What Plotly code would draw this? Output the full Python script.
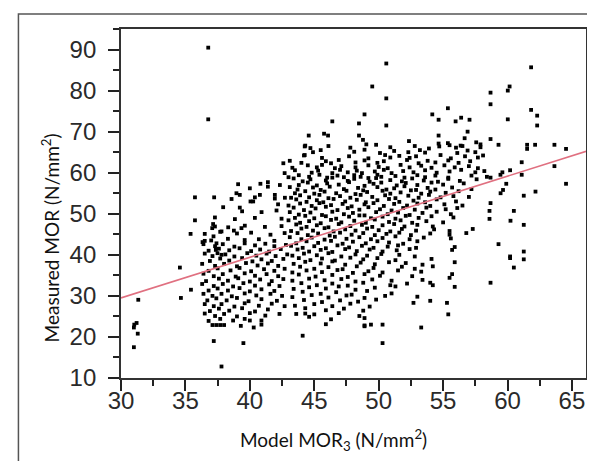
import plotly.graph_objects as go

# ---- Data: (Model MOR3, Measured MOR) in N/mm2 ----
right_pts = [(61.83, 85.67), (58.68, 79.5), (60.16, 81.0), (60.02, 80.0), (58.68, 76.67), (61.83, 75.3),
             (62.3, 73.9), (60.02, 73.0), (62.3, 71.5), (58.68, 68.2), (59.3, 66.8), (61.52, 66.8),
             (61.52, 65.8), (62.14, 66.8), (63.64, 66.8), (64.54, 65.8), (61.1, 62.55), (63.64, 61.6),
             (60.2, 60.6), (59.6, 60.1), (59.45, 59.5), (61.1, 59.5), (58.68, 58.8), (59.9, 57.3),
             (64.54, 57.3), (59.65, 55.8), (59.46, 55.0), (61.26, 54.4), (62.17, 55.4), (58.68, 52.6),
             (58.6, 50.7), (60.49, 50.7), (58.6, 48.76), (60.23, 48.3), (61.26, 47.3), (59.3, 42.6),
             (61.26, 40.8), (60.2, 39.6), (60.2, 39.2), (61.26, 38.9), (60.49, 36.9), (58.68, 33.2)]

upper_pts = [(36.77, 90.46), (36.77, 73.0), (50.59, 86.6), (49.5, 81.0), (50.59, 78.1), (48.9, 74.2),
             (46.4, 72.5), (48.47, 72.0), (50.59, 71.5), (55.37, 75.7), (54.16, 74.2), (54.65, 72.9),
             (55.97, 72.5), (56.4, 73.4), (57.05, 72.9), (56.9, 70.0), (44.57, 69.05), (45.76, 69.5),
             (46.07, 69.05), (48.47, 69.05), (48.78, 68.0), (49.04, 66.9), (52.35, 67.7), (54.65, 69.05),
             (54.65, 67.1), (55.37, 67.2), (56.67, 68.4), (56.36, 66.6), (57.57, 67.4), (57.9, 66.9),
             (44.26, 66.4), (44.26, 64.3)]

band_pts = [(44.3, 66.6), (44.7, 66.0), (46.1, 66.5), (47.8, 66.1), (49.8, 66.8), (50.9, 66.2), (52.8, 66.5),
            (53.9, 65.9), (54.7, 66.4), (55.5, 66.7), (56.0, 66.1), (56.5, 66.5), (57.9, 66.2),
            (44.9, 65.0), (45.5, 65.5), (48.1, 65.1), (48.9, 65.6), (50.1, 64.8), (51.2, 65.3), (52.3, 65.0),
            (53.2, 65.5), (53.6, 64.9), (56.1, 64.8), (56.9, 65.4), (57.5, 65.0),
            (44.2, 64.2), (45.6, 63.6), (47.7, 64.0), (49.2, 63.5), (50.5, 64.3), (50.9, 63.7), (51.6, 64.1),
            (52.4, 63.6), (52.9, 64.0), (54.8, 64.3), (55.6, 63.5), (56.7, 64.0), (57.7, 63.7), (58.1, 64.2),
            (43.1, 62.9), (44.0, 62.4), (45.9, 62.8), (46.3, 62.3), (46.9, 63.1), (48.2, 62.5), (48.9, 63.0),
            (49.9, 62.4), (50.4, 62.8), (52.2, 63.1), (53.1, 62.3), (53.8, 62.9), (54.4, 62.5), (55.4, 63.0),
            (56.2, 62.4), (57.1, 62.8),
            (43.3, 61.2), (44.5, 61.8), (45.2, 61.3), (45.6, 61.9), (46.6, 61.1), (47.1, 61.6), (48.2, 61.3),
            (49.2, 61.8), (50.0, 61.4), (50.7, 61.1), (51.7, 61.9), (52.4, 61.3), (53.3, 61.7), (54.1, 61.2),
            (55.1, 61.8), (55.9, 61.3), (57.0, 61.6), (57.7, 61.1),
            (43.5, 60.6), (44.8, 60.0), (45.3, 60.5), (46.4, 59.9), (47.0, 60.7), (47.6, 60.1), (48.3, 60.5),
            (48.7, 59.9), (49.7, 60.3), (50.4, 60.7), (51.0, 59.9), (51.9, 60.4), (52.7, 60.1), (53.6, 60.6),
            (54.5, 60.0), (55.5, 60.3), (56.4, 60.7), (57.5, 60.1), (58.2, 60.4),
            (43.0, 58.9), (43.8, 59.4), (44.6, 59.0), (45.4, 59.5), (46.0, 58.8), (46.8, 59.3), (47.3, 58.9),
            (48.1, 59.4), (48.6, 59.0), (49.2, 58.7), (49.9, 59.5), (50.2, 59.0), (51.3, 59.2), (52.0, 58.8),
            (53.0, 59.4), (53.6, 58.9), (54.4, 59.3), (55.4, 58.8), (57.2, 59.3), (58.4, 59.0)]

core_pts = [(43.4, 58.6), (44.1, 57.9), (44.7, 58.4), (45.9, 58.1), (46.4, 58.8), (47.6, 58.0), (48.1, 58.5),
            (49.3, 57.8), (49.8, 58.7), (50.9, 58.2), (51.8, 57.9), (52.6, 58.6), (53.5, 58.1), (54.6, 57.8),
            (55.4, 58.5), (56.3, 58.0), (57.6, 58.4),
            (43.8, 57.0), (44.5, 57.6), (45.2, 56.9), (46.0, 57.4), (46.9, 57.1), (47.7, 57.7), (48.9, 56.8),
            (49.6, 57.3), (50.2, 57.6), (51.4, 56.9), (52.1, 57.5), (53.0, 57.0), (54.1, 57.6), (55.0, 57.1),
            (56.6, 57.4),
            (43.1, 56.5), (43.7, 55.9), (44.9, 56.4), (45.5, 55.8), (46.2, 56.6), (47.3, 56.0), (48.4, 56.3),
            (48.8, 55.7), (49.9, 56.5), (50.6, 55.9), (51.2, 56.2), (52.0, 56.7), (52.9, 55.8), (53.8, 56.3),
            (54.4, 55.9), (55.7, 56.4), (57.2, 56.0),
            (43.5, 55.0), (44.3, 55.5), (45.0, 54.9), (45.8, 55.4), (46.7, 55.0), (47.5, 55.6), (48.2, 54.8),
            (49.1, 55.3), (50.3, 55.6), (50.9, 54.9), (51.7, 55.2), (52.5, 55.7), (53.3, 54.9), (54.0, 55.4),
            (55.2, 55.1), (56.2, 55.5),
            (43.2, 53.9), (43.9, 54.5), (44.6, 54.0), (45.4, 54.6), (46.1, 53.8), (47.0, 54.3), (47.8, 53.9),
            (48.6, 54.6), (49.5, 54.1), (50.5, 54.5), (51.3, 53.8), (52.3, 54.4), (53.1, 53.9), (53.9, 54.6),
            (54.8, 54.0), (55.8, 54.3), (57.0, 54.1),
            (43.6, 53.5), (44.4, 52.9), (45.2, 53.3), (45.7, 52.8), (46.5, 53.6), (47.4, 53.0), (48.3, 53.4),
            (49.0, 52.8), (49.9, 53.3), (50.8, 53.6), (51.6, 52.9), (52.7, 53.2), (53.6, 52.8), (54.5, 53.5),
            (56.0, 53.0),
            (43.0, 52.0), (43.9, 52.5), (44.8, 51.9), (45.4, 52.6), (46.3, 52.1), (47.2, 52.4), (47.9, 51.8),
            (48.9, 52.3), (49.6, 52.6), (50.4, 51.9), (51.2, 52.4), (52.2, 52.0), (53.0, 52.5), (54.0, 51.9),
            (55.1, 52.3), (56.5, 52.0),
            (43.4, 51.5), (44.2, 50.9), (45.1, 51.3), (45.9, 51.7), (46.8, 50.9), (47.6, 51.4), (48.5, 51.0),
            (49.2, 51.6), (50.1, 51.1), (51.0, 50.8), (51.9, 51.4), (52.8, 51.0), (53.7, 51.5), (55.2, 51.1),
            (56.1, 51.4),
            (43.1, 50.4), (43.8, 49.8), (44.7, 50.3), (45.6, 49.7), (46.4, 50.5), (47.3, 49.9), (48.0, 50.2),
            (48.9, 49.6), (49.8, 50.4), (50.7, 49.9), (51.5, 50.3), (52.4, 49.7), (53.4, 50.2), (54.5, 50.5),
            (55.6, 49.9),
            (43.5, 49.0), (44.3, 49.5), (45.0, 48.9), (45.9, 49.4), (46.7, 48.8), (47.7, 49.3), (48.5, 49.6),
            (49.4, 48.9), (50.3, 49.3), (51.3, 48.8), (52.1, 49.5), (53.1, 49.0), (54.1, 49.4), (55.8, 49.1),
            (43.0, 48.4), (43.9, 47.8), (44.6, 48.2), (45.5, 47.7), (46.3, 48.5), (47.1, 47.9), (48.1, 48.3),
            (49.0, 47.8), (49.7, 48.6), (50.8, 48.0), (51.7, 48.4), (52.6, 47.8), (53.7, 48.2), (55.0, 47.9),
            (43.6, 47.4), (44.4, 46.8), (45.2, 47.2), (46.1, 46.7), (46.9, 47.5), (47.8, 47.0), (48.7, 47.3),
            (49.5, 46.8), (50.3, 47.2), (51.2, 47.5), (52.0, 46.9), (53.0, 47.3), (54.2, 46.9),
            (43.2, 45.8), (44.0, 46.4), (44.9, 45.9), (45.8, 46.5), (46.5, 45.7), (47.4, 46.2), (48.2, 45.9),
            (49.1, 46.4), (50.0, 46.0), (50.9, 45.7), (51.8, 46.3), (52.9, 45.9), (54.3, 46.2), (55.5, 45.8),
            (57.3, 46.3)]

low_pts = [(43.7, 45.3), (44.5, 44.8), (45.3, 45.2), (46.2, 44.7), (47.0, 45.4), (47.9, 44.9), (48.8, 45.3),
           (49.7, 44.8), (50.6, 45.1), (51.6, 45.4), (52.5, 44.8), (54.0, 45.2), (55.5, 44.9), (56.8, 45.3),
           (43.1, 44.3), (44.0, 43.8), (44.8, 44.2), (45.8, 43.7), (46.6, 44.4), (47.5, 43.9), (48.5, 44.3),
           (49.4, 43.8), (50.3, 44.1), (51.3, 44.5), (52.4, 43.8), (53.5, 44.2), (55.6, 44.0),
           (43.6, 42.8), (44.4, 43.3), (45.3, 42.9), (46.3, 43.4), (47.2, 42.7), (48.0, 43.2), (49.0, 42.8),
           (49.9, 43.3), (50.8, 43.0), (51.9, 42.7), (53.0, 43.3),
           (43.2, 42.2), (44.1, 41.7), (45.0, 42.1), (45.9, 41.6), (46.8, 42.3), (47.7, 41.8), (48.7, 42.2),
           (49.6, 41.7), (50.7, 42.0), (51.5, 42.3), (52.9, 41.7), (55.9, 41.9),
           (43.7, 41.3), (44.6, 40.8), (45.5, 41.2), (46.4, 40.7), (47.4, 41.4), (48.3, 40.9), (49.3, 41.3),
           (50.3, 40.8), (51.4, 41.1), (52.4, 41.4), (55.7, 41.2),
           (43.3, 39.8), (44.2, 40.3), (45.2, 39.9), (46.1, 40.4), (47.1, 39.6), (48.2, 40.1), (49.1, 39.8),
           (50.2, 40.2), (51.6, 40.0), (52.8, 39.6),
           (43.8, 39.2), (44.7, 38.7), (45.6, 39.1), (46.6, 38.6), (47.8, 39.3), (48.8, 38.9), (49.9, 39.2),
           (51.3, 38.7), (54.1, 39.0),
           (43.4, 37.8), (44.3, 38.3), (45.5, 37.9), (46.4, 38.4), (47.4, 37.6), (48.6, 38.1), (49.7, 37.7),
           (50.8, 38.2), (52.1, 38.0), (53.4, 37.6), (55.9, 38.2),
           (43.9, 37.1), (45.0, 36.6), (46.1, 37.0), (47.2, 36.5), (48.3, 37.2), (49.6, 36.8), (51.8, 37.1),
           (52.8, 36.6), (54.2, 37.2),
           (43.3, 35.7), (44.4, 36.2), (45.6, 35.8), (46.8, 36.3), (48.0, 35.6), (49.2, 36.0), (50.3, 35.7),
           (51.5, 36.2), (53.3, 35.9), (55.7, 35.3),
           (43.8, 35.2), (45.1, 34.7), (46.4, 35.1), (47.6, 34.6), (48.9, 35.3), (50.1, 34.9), (52.6, 34.8),
           (55.5, 34.4),
           (43.3, 33.7), (44.6, 34.2), (45.8, 33.8), (47.1, 34.1), (48.2, 33.5), (49.5, 34.0), (51.0, 33.7),
           (53.4, 33.9), (54.0, 33.2),
           (44.0, 33.1), (45.2, 32.6), (46.4, 33.0), (47.6, 32.5), (48.8, 33.2), (50.9, 32.6), (52.2, 33.0),
           (55.9, 32.2),
           (43.4, 31.7), (44.6, 32.1), (45.9, 31.8), (46.9, 32.3), (48.2, 31.5), (49.7, 32.0), (51.3, 32.3),
           (54.2, 32.6),
           (44.1, 31.0), (45.5, 30.5), (46.7, 30.9), (47.9, 30.3), (49.1, 31.2), (51.0, 30.6),
           (43.3, 29.7), (44.8, 30.2), (46.1, 29.6), (47.5, 30.1), (48.9, 29.5), (50.5, 30.0), (53.0, 29.8),
           (44.2, 29.0), (45.6, 28.5), (47.0, 28.9), (48.4, 28.6), (49.8, 29.1), (52.7, 28.3), (54.0, 28.8),
           (43.5, 27.6), (45.0, 28.0), (46.4, 27.5), (47.8, 28.1), (49.3, 27.4), (55.3, 28.3),
           (44.3, 27.0), (45.9, 26.5), (47.3, 26.9), (48.8, 26.4),
           (43.6, 25.6), (44.3, 25.7), (45.0, 25.5), (46.9, 25.8), (48.5, 25.1), (55.4, 25.5),
           (44.6, 24.9), (46.3, 24.3), (48.9, 24.6),
           (45.9, 23.1), (48.9, 22.6), (49.4, 23.0), (50.3, 23.0), (53.3, 22.3)]

left_pts = [(35.74, 54.0), (37.23, 54.0), (39.09, 57.2), (38.96, 55.0), (39.22, 54.6), (40.0, 56.2),
            (40.82, 57.3), (41.4, 57.7), (41.4, 56.6), (40.78, 54.6), (40.05, 53.0), (40.26, 53.0),
            (41.94, 54.6), (42.19, 52.3), (37.93, 51.6), (39.22, 51.5), (39.4, 50.6), (35.74, 48.4),
            (35.4, 45.1), (37.15, 47.5), (37.29, 46.9), (37.08, 46.5), (38.76, 45.9), (39.35, 46.5),
            (37.8, 45.7), (36.5, 43.4), (36.33, 43.1), (37.18, 44.5), (37.41, 42.8), (37.36, 41.2),
            (37.49, 40.4), (37.8, 40.0), (34.57, 36.9), (34.65, 29.5), (35.43, 31.5), (31.34, 29.05),
            (31.03, 23.0), (31.21, 23.4), (37.1, 22.9), (37.4, 22.9), (37.7, 22.9), (38.0, 22.9),
            (40.0, 24.0), (40.9, 23.0), (42.6, 62.3), (42.7, 59.9), (42.33, 57.0),
            (38.58, 53.6), (40.39, 54.0), (41.94, 53.7), (42.72, 53.9), (40.91, 50.4), (42.07, 50.8),
            (37.29, 49.1), (38.84, 48.7), (40.39, 49.0), (42.46, 48.8), (38.32, 46.7), (39.61, 47.1),
            (41.17, 46.8), (42.46, 47.0),
            (36.5, 45.1), (37.7, 45.6), (39.0, 45.2), (40.1, 45.4), (41.6, 44.9), (42.7, 45.3),
            (37.0, 43.5), (38.3, 43.9), (39.6, 43.6), (40.7, 43.8), (41.9, 43.4),
            (36.4, 42.6), (37.3, 42.1), (37.9, 42.6), (38.8, 42.0), (39.6, 42.8), (40.4, 42.3), (41.2, 42.7),
            (41.9, 42.1), (42.8, 42.4),
            (36.8, 41.0), (37.6, 41.5), (38.4, 41.1), (39.2, 41.6), (40.1, 40.9), (40.8, 41.3), (41.5, 40.8),
            (42.4, 41.4),
            (36.5, 40.3), (37.1, 39.7), (38.1, 40.1), (38.8, 39.6), (39.8, 40.4), (40.5, 39.8), (41.3, 40.3),
            (42.0, 39.7), (42.9, 40.1),
            (36.9, 38.5), (37.7, 39.1), (38.4, 38.6), (39.4, 39.2), (40.2, 38.4), (40.9, 38.9), (41.7, 38.5),
            (42.6, 39.0),
            (36.3, 37.8), (37.3, 37.3), (38.0, 37.8), (39.0, 37.2), (39.7, 38.0), (40.6, 37.4), (41.4, 37.9),
            (42.2, 37.3),
            (36.8, 36.1), (37.5, 36.7), (38.5, 36.2), (39.2, 36.8), (40.1, 36.0), (41.1, 36.5), (41.9, 36.1),
            (42.7, 36.6),
            (36.4, 35.4), (37.2, 34.8), (37.9, 35.3), (38.9, 34.7), (39.6, 35.5), (40.4, 34.9), (41.3, 35.3),
            (42.2, 34.8),
            (36.6, 33.6), (37.6, 34.2), (38.3, 33.7), (39.1, 34.3), (40.0, 33.5), (40.8, 34.0), (41.7, 33.6),
            (42.6, 34.1),
            (36.3, 32.9), (37.2, 32.4), (37.9, 32.9), (38.7, 32.3), (39.5, 33.1), (40.4, 32.5), (41.5, 32.8),
            (42.3, 32.4),
            (36.8, 31.3), (37.5, 31.8), (38.3, 31.3), (39.2, 31.9), (40.0, 31.1), (40.9, 31.6), (41.9, 31.2),
            (36.4, 30.5), (37.1, 30.0), (37.8, 30.5), (38.6, 29.9), (39.6, 30.6), (40.5, 30.1), (41.6, 30.5),
            (42.5, 30.0),
            (36.7, 28.9), (37.4, 29.4), (38.2, 28.9), (39.0, 29.5), (39.9, 28.7), (40.9, 29.2), (42.1, 28.8),
            (36.5, 28.0), (37.2, 27.5), (37.8, 28.0), (38.8, 27.4), (39.6, 28.2), (40.7, 27.6), (41.7, 28.1),
            (42.7, 27.5),
            (36.9, 26.3), (37.6, 26.9), (38.4, 26.4), (39.4, 27.0), (40.4, 26.2), (41.4, 26.7),
            (36.5, 25.7), (37.3, 25.1), (38.0, 25.6), (39.0, 25.0), (40.0, 25.8), (41.2, 25.2), (42.3, 25.6),
            (36.8, 23.9), (37.7, 24.4), (38.7, 24.0), (39.6, 24.4), (40.9, 24.0)]

bottom_pts = [(31.0, 17.5), (31.3, 20.8), (31.0, 22.3), (37.2, 19.0), (37.8, 12.8), (39.5, 18.5),
              (44.1, 20.3), (50.3, 18.5), (39.3, 22.7), (40.3, 22.3), (48.9, 22.8)]

groups = [right_pts, upper_pts, band_pts, core_pts, low_pts, left_pts, bottom_pts]
model_mor = [p[0] for g in groups for p in g]      # x: Model MOR3
measured_mor = [p[1] for g in groups for p in g]   # y: Measured MOR

# Fitted regression line (end points)
fit_x = [30.0, 66.1]
fit_y = [29.5, 65.2]

x_ticks = [30, 35, 40, 45, 50, 55, 60, 65]
y_ticks = [10, 20, 30, 40, 50, 60, 70, 80, 90]

fig = go.Figure()
fig.add_trace(go.Scatter(x=model_mor, y=measured_mor, mode="markers",
                         marker=dict(symbol="square", size=3.8, color="#000000", line=dict(width=0)),
                         showlegend=False))
fig.add_trace(go.Scatter(x=fit_x, y=fit_y, mode="lines",
                         line=dict(color="#e07080", width=1.6), showlegend=False))

tickfont = dict(family="Liberation Sans, Arial, sans-serif", size=24, color="#2a2a2a")
axis_common = dict(showline=True, linecolor="#333333", linewidth=1.8, mirror=True,
                   ticks="outside", ticklen=11, tickwidth=1.6, tickcolor="#222222",
                   showgrid=False, zeroline=False, tickfont=tickfont)

fig.update_xaxes(range=[30, 66.09], tickvals=x_ticks, ticktext=[str(v) for v in x_ticks],
                 ticklabelstandoff=-11,
                 minor=dict(dtick=2.5, tick0=30, ticks="outside", ticklen=6, tickwidth=1.6,
                            tickcolor="#222222", showgrid=False),
                 **axis_common)
fig.update_yaxes(range=[10, 95], tickvals=y_ticks, ticktext=[str(v) for v in y_ticks],
                 ticklabelstandoff=7,
                 minor=dict(dtick=5, tick0=10, ticks="outside", ticklen=6, tickwidth=1.6,
                            tickcolor="#222222", showgrid=False),
                 **axis_common)

W0, W1, H0, H1 = 112.7, 578.3, 21.0, 370.0
title_font = dict(family="Lato, Open Sans, sans-serif", size=19, color="#111111")
fig.add_annotation(text="Model MOR<sub>3</sub> (N/mm<sup>2</sup>)", xref="paper", yref="paper",
                   x=(325 - W0) / (W1 - W0), y=-(432 - H1) / (H1 - H0),
                   showarrow=False, font=title_font, xanchor="center", yanchor="middle")
fig.add_annotation(text="Measured MOR (N/mm<sup>2</sup>)", xref="paper", yref="paper",
                   x=-(W0 - 42) / (W1 - W0), y=(H1 - 230) / (H1 - H0),
                   textangle=-90, showarrow=False, font=title_font,
                   xanchor="center", yanchor="middle")

# outer frame (right and bottom sides lie outside the picture)
fig.add_shape(type="rect", xref="paper", yref="paper",
              x0=-(W0 - 10) / (W1 - W0), x1=(605 - W0) / (W1 - W0),
              y0=-(475 - H1) / (H1 - H0), y1=(H1 - 6) / (H1 - H0),
              line=dict(color="#555555", width=1.5))

fig.update_layout(width=595, height=461, paper_bgcolor="white", plot_bgcolor="white",
                  margin=dict(l=W0, r=595 - W1, t=H0, b=461 - H1, pad=0))

fig.write_html("out.html")
